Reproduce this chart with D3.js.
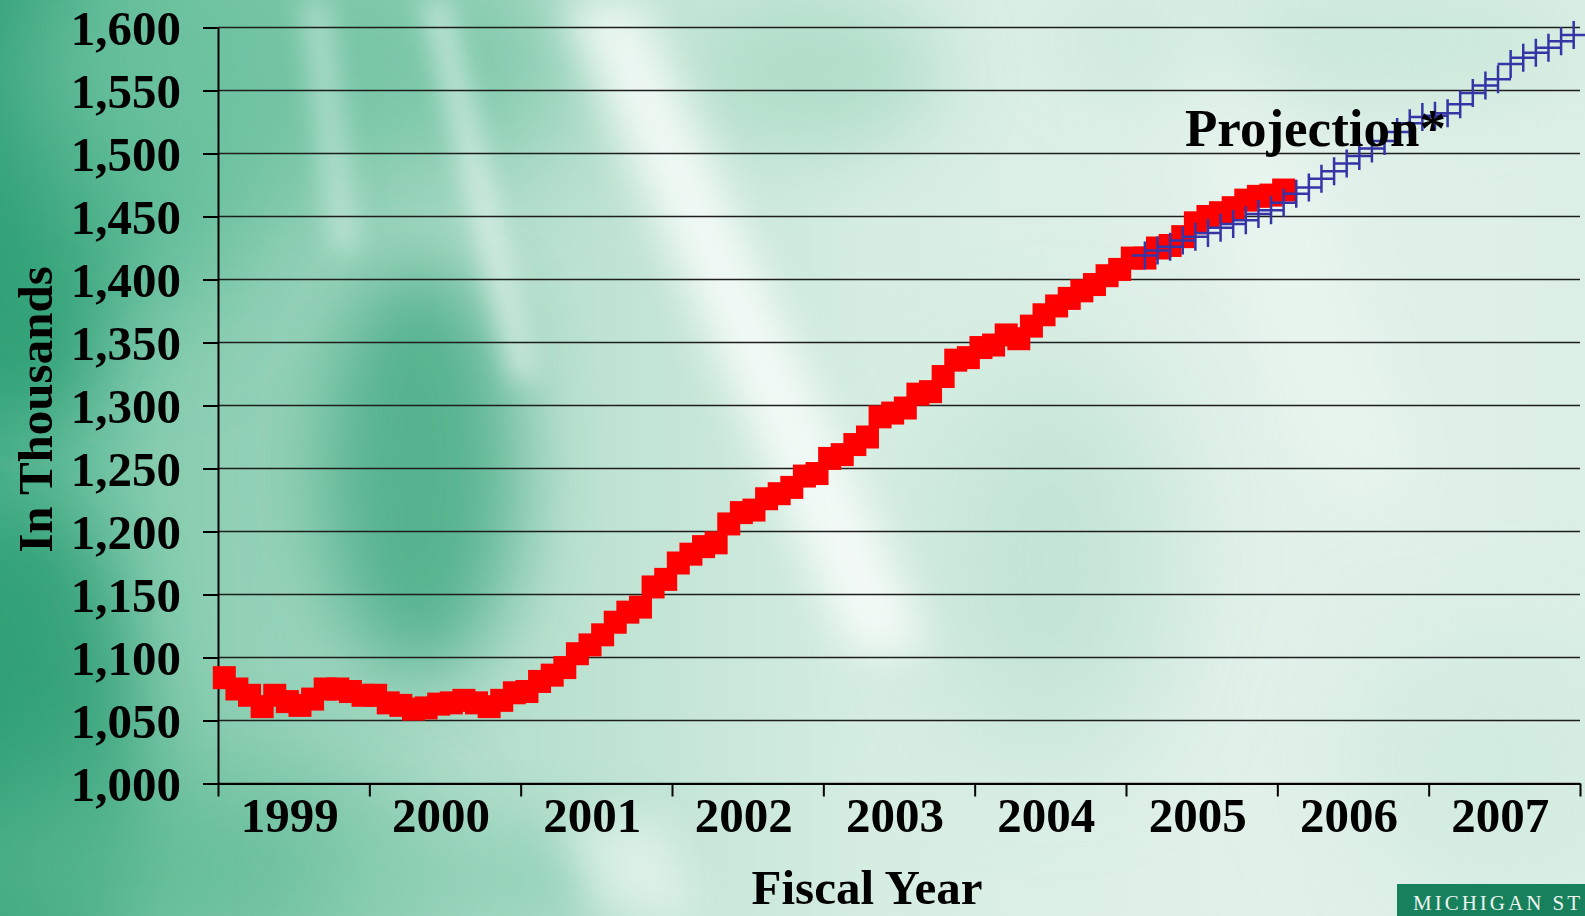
<!DOCTYPE html>
<html>
<head>
<meta charset="utf-8">
<script src="https://cdn.jsdelivr.net/npm/d3@7"></script>
<style>
  html, body { margin: 0; padding: 0; overflow: hidden; background: #d6ede2; }
  svg { display: block; }
  text { font-family: "Liberation Serif", "Times New Roman", serif; font-weight: bold; fill: #000; }
</style>
</head>
<body>
<script>
// ---------------- DATA ----------------
const fiscalYears = ["1999", "2000", "2001", "2002", "2003", "2004", "2005", "2006", "2007"];
const yTickValues = [1000, 1050, 1100, 1150, 1200, 1250, 1300, 1350, 1400, 1450, 1500, 1550, 1600];
const monthsPerYear = 12;

// Actual monthly caseload (thousands), starting with first month of FY1999
const actualCaseload = [
  1084, 1075, 1070, 1061, 1070, 1065, 1062, 1067, 1075, 1075, 1073, 1070,
  1070, 1064, 1062, 1059, 1060, 1063, 1064, 1066, 1064, 1061, 1066, 1072,
  1073, 1081, 1086, 1092, 1103, 1110, 1118, 1128, 1136, 1140, 1156, 1162,
  1175, 1182, 1188, 1191, 1206, 1215, 1217, 1226, 1230, 1235, 1244, 1246,
  1258, 1261, 1269, 1275, 1291, 1294, 1298, 1309, 1311, 1323, 1336, 1338,
  1346, 1348, 1356, 1353, 1363, 1372, 1379, 1385, 1391, 1396, 1403, 1408,
  1417, 1417, 1425, 1427, 1434, 1445, 1450, 1453, 1457, 1463, 1466, 1467,
  1471
];

// Projected monthly caseload (thousands), starting at month index 73
const projectionStartMonth = 73;
const projectedCaseload = [
  1419, 1423, 1426, 1431, 1434, 1437, 1441, 1444, 1447, 1452, 1455,
  1461, 1468, 1473, 1480, 1486, 1492, 1498, 1504, 1510, 1517, 1524,
  1529, 1530, 1532, 1539, 1548, 1554, 1559, 1571, 1576, 1580, 1584,
  1589, 1594
];

const yAxisTitle = "In Thousands";
const xAxisTitle = "Fiscal Year";
const projectionLabel = "Projection*";
const logoText = "MICHIGAN ST";

// ---------------- LAYOUT ----------------
const W = 1585, H = 916;
const totalMonths = fiscalYears.length * monthsPerYear;

const svg = d3.select("body").append("svg").attr("width", W).attr("height", H);
const defs = svg.append("defs");

// ---------------- BACKGROUND ----------------
const blur = (id, sd) => defs.append("filter").attr("id", id)
  .attr("x", "-50%").attr("y", "-50%").attr("width", "200%").attr("height", "200%")
  .append("feGaussianBlur").attr("stdDeviation", sd);
blur("b20", 20); blur("b40", 40); blur("b60", 60); blur("b12", 12);

const baseGrad = defs.append("linearGradient").attr("id", "baseGrad")
  .attr("x1", "0").attr("y1", "0").attr("x2", "1").attr("y2", "0");
[[0, "#4fb48e"], [0.1, "#86ccaf"], [0.3, "#b3decb"], [0.55, "#d6ede2"], [0.8, "#e2f1ea"], [1, "#dcefe6"]]
  .forEach(([o, c]) => baseGrad.append("stop").attr("offset", o).attr("stop-color", c));

const bg = svg.append("g");
bg.append("rect").attr("width", W).attr("height", H).attr("fill", "url(#baseGrad)");

// green shapes
const blobs = [
  { cx: 20, cy: 150, rx: 110, ry: 280, c: "#2b9c72", f: "b40", o: 0.85 },
  { cx: 20, cy: 760, rx: 120, ry: 260, c: "#2b9c72", f: "b40", o: 0.8 },
  { cx: 150, cy: 120, rx: 120, ry: 200, c: "#53b790", f: "b60", o: 0.7 },
  { cx: 300, cy: 60, rx: 280, ry: 130, c: "#6ec2a0", f: "b60", o: 0.8 },
  { cx: 420, cy: 470, rx: 100, ry: 210, c: "#3fa981", f: "b40", o: 0.8 },
  { cx: 170, cy: 870, rx: 250, ry: 100, c: "#5cb993", f: "b60", o: 0.75 },
  { cx: 470, cy: 880, rx: 160, ry: 60, c: "#86cdb0", f: "b40", o: 0.7 },
  { cx: 1050, cy: 560, rx: 120, ry: 200, c: "#bde2d1", f: "b60", o: 0.8 },
  { cx: 1320, cy: 40, rx: 260, ry: 70, c: "#c3e5d5", f: "b40", o: 0.7 },
  { cx: 820, cy: 70, rx: 120, ry: 80, c: "#a3d8c0", f: "b40", o: 0.7 },
  { cx: 1480, cy: 760, rx: 140, ry: 120, c: "#cce9dc", f: "b60", o: 0.7 }
];
bg.selectAll("ellipse.blob").data(blobs).join("ellipse").attr("class", "blob")
  .attr("cx", d => d.cx).attr("cy", d => d.cy).attr("rx", d => d.rx).attr("ry", d => d.ry)
  .attr("fill", d => d.c).attr("opacity", d => d.o).attr("filter", d => `url(#${d.f})`);

// light streaks
const streaks = [
  { pts: "560,0 640,0 930,650 850,650", o: 0.75, f: "b20" },
  { pts: "420,0 450,0 540,380 510,380", o: 0.45, f: "b12" },
  { pts: "300,0 330,0 360,250 330,250", o: 0.35, f: "b12" },
  { pts: "1150,0 1230,0 1420,500 1340,500", o: 0.35, f: "b40" },
  { pts: "560,820 660,820 700,916 600,916", o: 0.5, f: "b20" }
];
bg.selectAll("polygon.streak").data(streaks).join("polygon").attr("class", "streak")
  .attr("points", d => d.pts).attr("fill", "#ffffff").attr("opacity", d => d.o)
  .attr("filter", d => `url(#${d.f})`);

// ---------------- SCALES ----------------
const x = d3.scaleLinear().domain([0, totalMonths]).range([218, 1580]);
const y = d3.scaleLinear().domain([1000, 1600]).range([783.5, 27.5]);

// gridlines
svg.append("g").selectAll("line").data(yTickValues).join("line")
  .attr("x1", x(0)).attr("x2", x(totalMonths))
  .attr("y1", d => y(d)).attr("y2", d => y(d))
  .attr("stroke", "#1e1e1e").attr("stroke-width", 1.6);

// y axis
const yAxis = svg.append("g").attr("transform", `translate(${x(0)},0)`)
  .call(d3.axisLeft(y).tickValues(yTickValues).tickFormat(d3.format(","))
    .tickSize(15).tickPadding(22).tickSizeOuter(0));
yAxis.select(".domain").attr("stroke", "#000").attr("stroke-width", 2);
yAxis.selectAll(".tick line").attr("stroke", "#000").attr("stroke-width", 2);
yAxis.selectAll(".tick text").attr("font-size", 49).attr("dy", "0.34em")
  .style("font-family", '"Liberation Serif", "Times New Roman", serif').style("font-weight", "bold");

// x axis
const yearBoundaries = d3.range(0, totalMonths + 1, monthsPerYear);
const xAxis = svg.append("g").attr("transform", `translate(0,${y(1000)})`)
  .call(d3.axisBottom(x).tickValues(yearBoundaries).tickFormat("").tickSize(13).tickSizeOuter(0));
xAxis.select(".domain").attr("stroke", "#000").attr("stroke-width", 2);
xAxis.selectAll(".tick line").attr("stroke", "#000").attr("stroke-width", 2);

svg.append("g").selectAll("text").data(fiscalYears).join("text")
  .attr("x", (d, i) => x(i * monthsPerYear + monthsPerYear / 2) - 4)
  .attr("y", y(1000) + 48.5)
  .attr("text-anchor", "middle").attr("font-size", 49).text(d => d);

// ---------------- SERIES ----------------
const sq = 23;
svg.append("g").selectAll("rect").data(actualCaseload).join("rect")
  .attr("x", (d, i) => x(i + 0.5) - sq / 2)
  .attr("y", d => y(d) - sq / 2)
  .attr("width", sq).attr("height", sq)
  .attr("fill", "#ff0000");

const plusW = 13, plusH = 14;
svg.append("g").selectAll("path").data(projectedCaseload).join("path")
  .attr("d", (d, i) => {
    const cx = x(projectionStartMonth + i + 0.5), cy = y(d);
    return `M${cx - plusW},${cy}H${cx + plusW}M${cx},${cy - plusH}V${cy + plusH}`;
  })
  .attr("stroke", "#3535a6").attr("stroke-width", 2.5).attr("fill", "none");

// ---------------- TEXT ----------------
svg.append("text").attr("transform", `translate(52,${409.5}) rotate(-90)`)
  .attr("text-anchor", "middle").attr("font-size", 49).text(yAxisTitle);

svg.append("text").attr("x", 867).attr("y", 904)
  .attr("text-anchor", "middle").attr("font-size", 49).text(xAxisTitle);

svg.append("text").attr("x", 1185).attr("y", 146)
  .attr("font-size", 53).text(projectionLabel);

// logo box
svg.append("rect").attr("x", 1397).attr("y", 884).attr("width", W - 1397).attr("height", H - 884)
  .attr("fill", "#17805c");
svg.append("text").attr("x", 1413).attr("y", 910)
  .attr("font-size", 21).style("font-weight", "normal").style("letter-spacing", "3px")
  .attr("fill", "#eef5f1").style("fill", "#eef5f1").text(logoText);
</script>
</body>
</html>
